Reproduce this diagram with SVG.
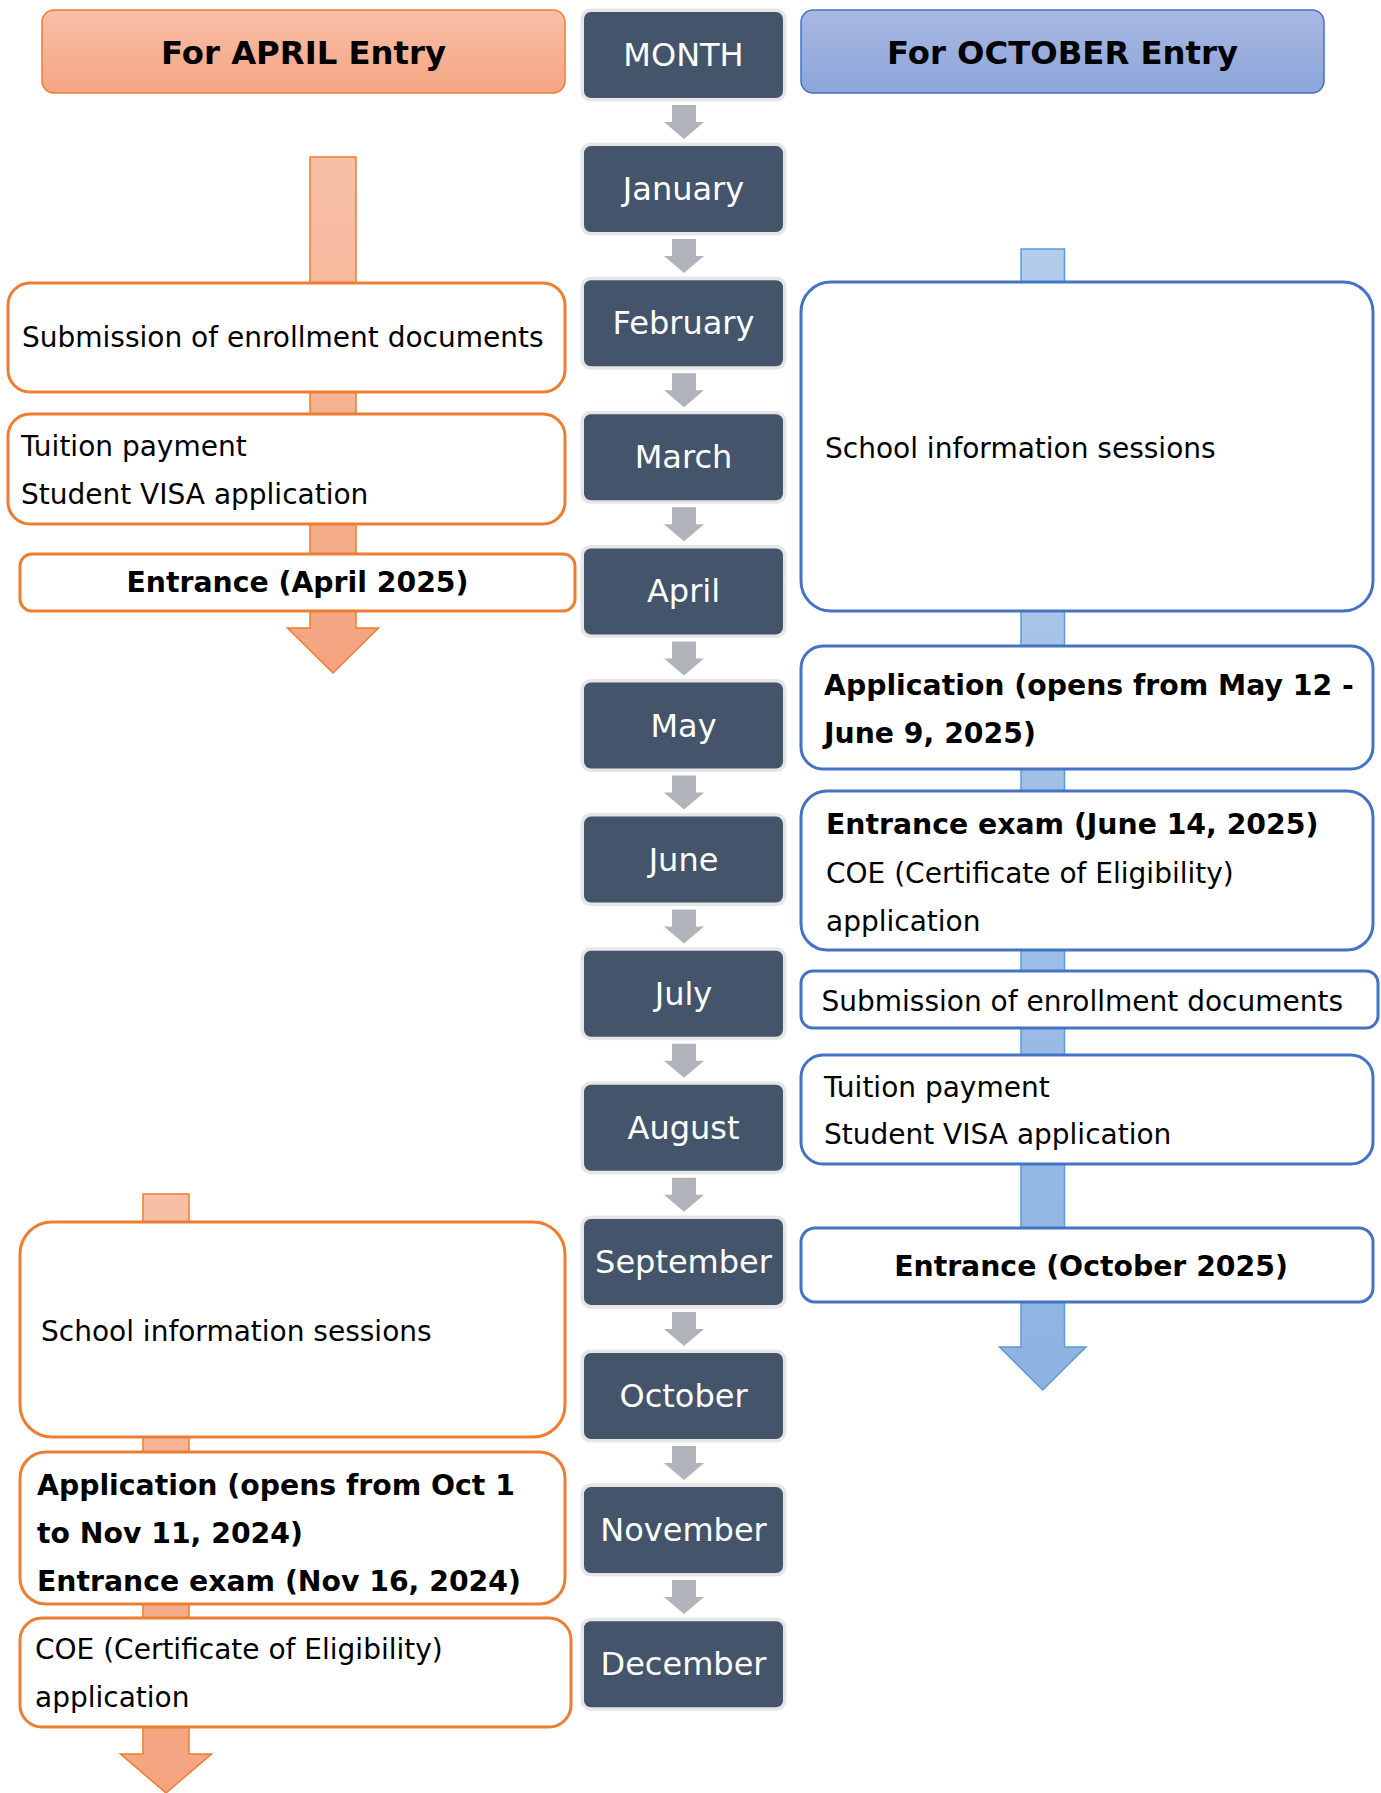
<svg xmlns="http://www.w3.org/2000/svg" width="1381" height="1793" viewBox="0 0 1381 1793">
<style>
  text { font-family: "DejaVu Sans", Verdana, "Liberation Sans", sans-serif; fill: #000; }
  .hdr { font-size: 32.3px; font-weight: bold; text-anchor: middle; }
  .mon { font-size: 32px; fill: #FFFFFF; text-anchor: middle; }
  .body { font-size: 28px; }
  .bold { font-size: 28.3px; font-weight: bold; }
  .mid { text-anchor: middle; }
  .obox { fill: #FFFFFF; stroke: #ED7D31; stroke-width: 3; }
  .bbox { fill: #FFFFFF; stroke: #4472C4; stroke-width: 3; }
  .mrim { fill: #E6E6E6; }
  .mcore { fill: #44546A; }
  .garrow { fill: #B0B3B9; }
</style>
<defs>
  <linearGradient id="gOrangeHdr" x1="0" y1="0" x2="0" y2="1">
    <stop offset="0" stop-color="#F8BFA6"/>
    <stop offset="1" stop-color="#F4A582"/>
  </linearGradient>
  <linearGradient id="gBlueHdr" x1="0" y1="0" x2="0" y2="1">
    <stop offset="0" stop-color="#A9B8E2"/>
    <stop offset="1" stop-color="#8CA5DA"/>
  </linearGradient>
  <linearGradient id="gOrangeArrow" x1="0" y1="0" x2="0" y2="1">
    <stop offset="0" stop-color="#F7C0A7"/>
    <stop offset="1" stop-color="#F4A47F"/>
  </linearGradient>
  <linearGradient id="gBlueArrow" x1="0" y1="0" x2="0" y2="1">
    <stop offset="0" stop-color="#B3CCEA"/>
    <stop offset="1" stop-color="#8DB3E2"/>
  </linearGradient>
  <g id="garr">
    <polygon class="garrow" points="672,0 696,0 696,17 704,17 684,34 664,17 672,17"/>
  </g>
</defs>

<!-- connectors -->
<g id="connectors">
  <path d="M310,157 H356 V628 H378.5 L333,673 L287.5,628 H310 Z" fill="url(#gOrangeArrow)" stroke="#ED7D31" stroke-width="1.5"/>
  <path d="M143,1194 H189 V1754 H211.5 L166,1793 L120.5,1754 H143 Z" fill="url(#gOrangeArrow)" stroke="#ED7D31" stroke-width="1.5"/>
  <path d="M1021,249 H1064.5 V1347 H1086 L1042.75,1390 L999.5,1347 H1021 Z" fill="url(#gBlueArrow)" stroke="#5B9BD5" stroke-width="1.5"/>
  <use href="#garr" y="105"/>
  <use href="#garr" y="239.1"/>
  <use href="#garr" y="373.2"/>
  <use href="#garr" y="507.3"/>
  <use href="#garr" y="641.4"/>
  <use href="#garr" y="775.5"/>
  <use href="#garr" y="909.6"/>
  <use href="#garr" y="1043.7"/>
  <use href="#garr" y="1177.8"/>
  <use href="#garr" y="1311.9"/>
  <use href="#garr" y="1446"/>
  <use href="#garr" y="1580.1"/>
</g>

<!-- headers -->
<g id="hdr-april">
  <rect x="42" y="10" width="523" height="83" rx="12" fill="url(#gOrangeHdr)" stroke="#ED7D31" stroke-width="1.5"/>
  <text class="hdr" x="303.5" y="64">For APRIL Entry</text>
</g>
<g id="hdr-october">
  <rect x="801" y="10" width="523" height="83" rx="12" fill="url(#gBlueHdr)" stroke="#4472C4" stroke-width="1.5"/>
  <text class="hdr" x="1062.5" y="64">For OCTOBER Entry</text>
</g>

<!-- month column -->
<g id="m-month"><rect class="mrim" x="580.5" y="8.5" width="206" height="93" rx="10"/><rect class="mcore" x="584" y="12" width="199" height="86" rx="7"/><text class="mon" x="683.5" y="66">MONTH</text></g>
<g id="m-jan"><rect class="mrim" x="580.5" y="142.6" width="206" height="93" rx="10"/><rect class="mcore" x="584" y="146.1" width="199" height="86" rx="7"/><text class="mon" x="683.5" y="200.1">January</text></g>
<g id="m-feb"><rect class="mrim" x="580.5" y="276.7" width="206" height="93" rx="10"/><rect class="mcore" x="584" y="280.2" width="199" height="86" rx="7"/><text class="mon" x="683.5" y="334.2">February</text></g>
<g id="m-mar"><rect class="mrim" x="580.5" y="410.8" width="206" height="93" rx="10"/><rect class="mcore" x="584" y="414.3" width="199" height="86" rx="7"/><text class="mon" x="683.5" y="468.3">March</text></g>
<g id="m-apr"><rect class="mrim" x="580.5" y="544.9" width="206" height="93" rx="10"/><rect class="mcore" x="584" y="548.4" width="199" height="86" rx="7"/><text class="mon" x="683.5" y="602.4">April</text></g>
<g id="m-may"><rect class="mrim" x="580.5" y="679" width="206" height="93" rx="10"/><rect class="mcore" x="584" y="682.5" width="199" height="86" rx="7"/><text class="mon" x="683.5" y="736.5">May</text></g>
<g id="m-jun"><rect class="mrim" x="580.5" y="813.1" width="206" height="93" rx="10"/><rect class="mcore" x="584" y="816.6" width="199" height="86" rx="7"/><text class="mon" x="683.5" y="870.6">June</text></g>
<g id="m-jul"><rect class="mrim" x="580.5" y="947.2" width="206" height="93" rx="10"/><rect class="mcore" x="584" y="950.7" width="199" height="86" rx="7"/><text class="mon" x="683.5" y="1004.7">July</text></g>
<g id="m-aug"><rect class="mrim" x="580.5" y="1081.3" width="206" height="93" rx="10"/><rect class="mcore" x="584" y="1084.8" width="199" height="86" rx="7"/><text class="mon" x="683.5" y="1138.8">August</text></g>
<g id="m-sep"><rect class="mrim" x="580.5" y="1215.4" width="206" height="93" rx="10"/><rect class="mcore" x="584" y="1218.9" width="199" height="86" rx="7"/><text class="mon" x="683.5" y="1272.9">September</text></g>
<g id="m-oct"><rect class="mrim" x="580.5" y="1349.5" width="206" height="93" rx="10"/><rect class="mcore" x="584" y="1353" width="199" height="86" rx="7"/><text class="mon" x="683.5" y="1407">October</text></g>
<g id="m-nov"><rect class="mrim" x="580.5" y="1483.6" width="206" height="93" rx="10"/><rect class="mcore" x="584" y="1487.1" width="199" height="86" rx="7"/><text class="mon" x="683.5" y="1541.1">November</text></g>
<g id="m-dec"><rect class="mrim" x="580.5" y="1617.7" width="206" height="93" rx="10"/><rect class="mcore" x="584" y="1621.2" width="199" height="86" rx="7"/><text class="mon" x="683.5" y="1675.2">December</text></g>

<!-- April entry steps -->
<g id="a-submission">
  <rect class="obox" x="8" y="283" width="557" height="109" rx="22"/>
  <text class="body" x="22" y="347">Submission of enrollment documents</text>
</g>
<g id="a-tuition">
  <rect class="obox" x="8" y="414" width="557" height="110" rx="22"/>
  <text class="body" x="21" y="456">Tuition payment</text>
  <text class="body" x="21" y="504">Student VISA application</text>
</g>
<g id="a-entrance">
  <rect class="obox" x="20" y="554" width="555" height="57" rx="12"/>
  <text class="bold mid" x="297.5" y="592">Entrance (April 2025)</text>
</g>
<g id="a-info">
  <rect class="obox" x="20" y="1222" width="545" height="215" rx="32"/>
  <text class="body" x="41" y="1341">School information sessions</text>
</g>
<g id="a-application">
  <rect class="obox" x="20" y="1452" width="545" height="152" rx="26"/>
  <text class="bold" x="37" y="1495">Application (opens from Oct 1</text>
  <text class="bold" x="37" y="1543">to Nov 11, 2024)</text>
  <text class="bold" x="37" y="1591">Entrance exam (Nov 16, 2024)</text>
</g>
<g id="a-coe">
  <rect class="obox" x="20" y="1618" width="551" height="109" rx="22"/>
  <text class="body" x="35" y="1659">COE (Certificate of Eligibility)</text>
  <text class="body" x="35" y="1707">application</text>
</g>

<!-- October entry steps -->
<g id="o-info">
  <rect class="bbox" x="801" y="282" width="572" height="329" rx="30"/>
  <text class="body" x="825" y="458">School information sessions</text>
</g>
<g id="o-application">
  <rect class="bbox" x="801" y="646" width="572" height="123" rx="22"/>
  <text class="bold" x="824" y="695">Application (opens from May 12 -</text>
  <text class="bold" x="824" y="743">June 9, 2025)</text>
</g>
<g id="o-exam">
  <rect class="bbox" x="801" y="791" width="572" height="159" rx="26"/>
  <text class="bold" x="826" y="834">Entrance exam (June 14, 2025)</text>
  <text class="body" x="826" y="883">COE (Certificate of Eligibility)</text>
  <text class="body" x="826" y="931">application</text>
</g>
<g id="o-submission">
  <rect class="bbox" x="801" y="971" width="577" height="57" rx="12"/>
  <text class="body" x="821.5" y="1011">Submission of enrollment documents</text>
</g>
<g id="o-tuition">
  <rect class="bbox" x="801" y="1055" width="572" height="109" rx="22"/>
  <text class="body" x="824" y="1097">Tuition payment</text>
  <text class="body" x="824" y="1144">Student VISA application</text>
</g>
<g id="o-entrance">
  <rect class="bbox" x="801" y="1228" width="572" height="74" rx="14"/>
  <text class="bold mid" x="1091" y="1276">Entrance (October 2025)</text>
</g>
</svg>
